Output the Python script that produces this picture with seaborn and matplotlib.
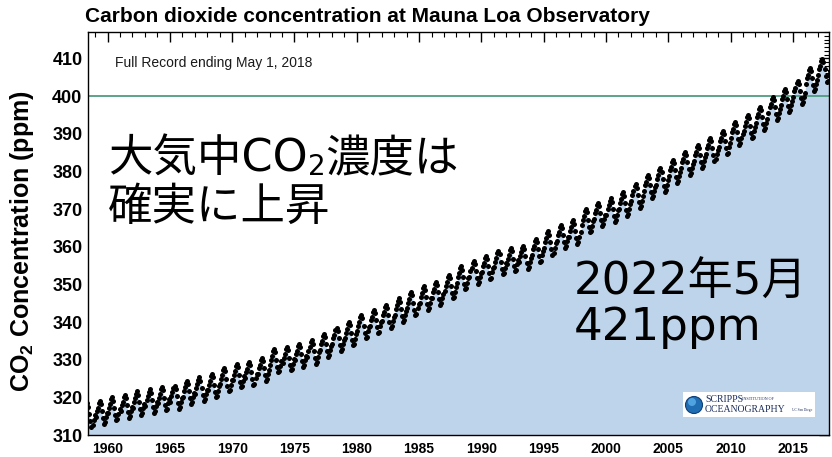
import numpy as np
import pandas as pd
import matplotlib
matplotlib.use("Agg")
import matplotlib.pyplot as plt
from matplotlib.patches import Rectangle, Ellipse
from matplotlib.ticker import MultipleLocator, FixedLocator
import seaborn as sns

# Mauna Loa CO2: annual means (ppm) and the typical monthly departure from them
years = list(range(1958, 2019))
annual_mean_ppm = [
    315.30, 315.98, 316.91, 317.64, 318.45, 318.99, 319.62, 320.04, 321.37, 322.18,
    323.05, 324.62, 325.68, 326.32, 327.46, 329.68, 330.19, 331.13, 332.03, 333.84,
    335.41, 336.84, 338.76, 340.12, 341.48, 343.15, 344.87, 346.35, 347.61, 349.31,
    351.69, 353.20, 354.45, 355.70, 356.54, 357.21, 358.96, 360.97, 362.74, 363.88,
    366.84, 368.54, 369.71, 371.32, 373.45, 375.98, 377.70, 379.98, 382.09, 384.02,
    385.83, 387.64, 390.10, 391.85, 394.06, 396.74, 398.81, 401.01, 404.41, 406.76,
    408.72,
]
seasonal_offset_ppm = [-1.20, 0.30, 1.25, 2.55, 3.10, 2.25, 0.30, -1.55, -3.05, -2.65, -1.25, -0.10]
record_start = (1958, 3)
record_end = (2018, 4)

y_ticks = [310, 320, 330, 340, 350, 360, 370, 380, 390, 400, 410]
x_ticks = [1960, 1965, 1970, 1975, 1980, 1985, 1990, 1995, 2000, 2005, 2010, 2015]
reference_level = 400

title = "Carbon dioxide concentration at Mauna Loa Observatory"
record_note = "Full Record ending May 1, 2018"
headline = ["大気中CO", "2", "濃度は"]
headline_2 = "確実に上昇"
latest_1 = "2022年5月"
latest_2 = "421ppm"

rows = []
for yr, mean in zip(years, annual_mean_ppm):
    for m, off in enumerate(seasonal_offset_ppm, start=1):
        if (yr, m) < record_start or (yr, m) > record_end:
            continue
        rows.append({"date": yr + (m - 0.5) / 12.0, "co2": mean + off})
df = pd.DataFrame(rows)

sns.set_style("white")
plt.rcParams["font.family"] = ["Liberation Sans", "Noto Sans CJK JP", "DejaVu Sans"]
plt.rcParams["mathtext.fontset"] = "custom"
plt.rcParams["mathtext.rm"] = "Liberation Sans"
plt.rcParams["mathtext.bf"] = "Liberation Sans:bold"
for key in ("text.color", "axes.labelcolor", "xtick.color", "ytick.color"):
    plt.rcParams[key] = "black"

W, H = 832, 457
fig = plt.figure(figsize=(W / 100, H / 100), dpi=100)
ax = fig.add_axes([88 / W, 1 - 435 / H, (829 - 88) / W, (435 - 32) / H])

ax.fill_between(df["date"], df["co2"], 300, color="#bed4ea", linewidth=0, zorder=1)
ax.axhline(reference_level, color="#4f9c80", linewidth=1.3, zorder=2)
sns.scatterplot(data=df, x="date", y="co2", color="black", s=13, linewidth=0,
                ax=ax, zorder=3, legend=False)

ax.set_xlim(1958.43, 2017.9)
ax.set_ylim(310, 417)
ax.xaxis.set_major_locator(FixedLocator(x_ticks))
ax.yaxis.set_major_locator(FixedLocator(y_ticks))
ax.xaxis.set_minor_locator(MultipleLocator(1))
ax.yaxis.set_minor_locator(MultipleLocator(1))
ax.set_xlabel("")
ax.set_ylabel("")
ax.tick_params(which="both", direction="in", top=True, right=True, color="black")
ax.tick_params(which="major", length=7, width=1.0)
ax.tick_params(which="minor", length=3.5, width=0.8)
ax.tick_params(axis="y", labelsize=13, pad=4, labelcolor="black")
ax.tick_params(axis="x", labelsize=10, pad=5, labelcolor="black")
for lab in ax.get_xticklabels() + ax.get_yticklabels():
    lab.set_fontweight("bold")
for sp in ax.spines.values():
    sp.set_color("black")
    sp.set_linewidth(1.0)

fig.text(85 / W, 1 - 16 / H, title, fontsize=15, fontweight="bold", va="center", ha="left")
fig.text(22 / W, 1 - 241 / H, r"CO$_{\mathbf{2}}$ Concentration (ppm)", fontsize=18,
         fontweight="bold", rotation=90, va="center", ha="center")
fig.text(115 / W, 1 - 63 / H, record_note, fontsize=10, va="center", ha="left", color="#1a1a1a")

# Japanese overlay captions (Verdana-like Latin, Gothic kana/kanji)
jp = ["DejaVu Sans", "Noto Sans CJK JP"]
t1 = fig.text(108 / W, 1 - 172 / H, headline[0], fontsize=32, family=jp, va="baseline", ha="left")
t2 = ax.annotate(headline[1], xy=(1, 0), xycoords=t1, fontsize=20, family=jp,
                 va="bottom", ha="left", annotation_clip=False)
ax.annotate(headline[2], xy=(1, 0), xycoords=t2, fontsize=32, family=jp,
            va="bottom", ha="left", annotation_clip=False)
fig.text(108 / W, 1 - 220 / H, headline_2, fontsize=32, family=jp, va="baseline", ha="left")
fig.text(574 / W, 1 - 295 / H, latest_1, fontsize=32.5, family=jp, va="baseline", ha="left")
fig.text(574 / W, 1 - 340 / H, latest_2, fontsize=32.5, family=jp, va="baseline", ha="left")

# Institution badge
fig.add_artist(Rectangle((683 / W, 1 - 417 / H), (815 - 683) / W, 25 / H,
                         transform=fig.transFigure, facecolor="white", edgecolor="none", zorder=5))
fig.add_artist(Ellipse((694 / W, 1 - 405 / H), 17 / W, 17 / H, transform=fig.transFigure,
                       facecolor="#1f6db3", edgecolor="#0d3f78", linewidth=0.8, zorder=6))
fig.add_artist(Ellipse((692 / W, 1 - 402 / H), 8 / W, 8 / H, transform=fig.transFigure,
                       facecolor="#4fa3e0", edgecolor="none", zorder=7))
navy = "#1c2d5c"
fig.text(705 / W, 1 - 399 / H, "SCRIPPS", family="Liberation Serif", fontsize=7,
         color=navy, va="center", ha="left", zorder=8)
fig.text(742 / W, 1 - 399 / H, "INSTITUTION OF", family="Liberation Serif", fontsize=3,
         color=navy, va="center", ha="left", zorder=8)
fig.text(705 / W, 1 - 409 / H, "OCEANOGRAPHY", family="Liberation Serif", fontsize=7,
         color=navy, va="center", ha="left", zorder=8)
fig.text(792 / W, 1 - 410 / H, "UC San Diego", family="Liberation Serif", fontsize=2.5,
         color=navy, va="center", ha="left", zorder=8)

fig.savefig("out.png", dpi=100)
